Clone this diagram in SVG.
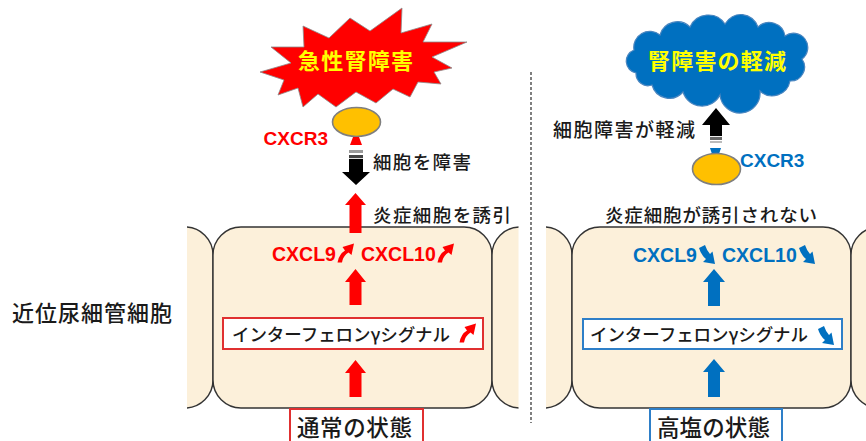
<svg xmlns="http://www.w3.org/2000/svg" width="866" height="441" viewBox="0 0 866 441">
  <style>
    .jp { font-family: "Noto Sans CJK JP", "Noto Sans", sans-serif; font-weight: 500; fill: #1a1a1a; }
    .lat { font-family: "Liberation Sans", Arial, sans-serif; font-weight: bold; }
    .red { fill: #ff0000; }
    .blue { fill: #0070c0; }
    .cell { fill: #fcf0da; stroke: #333333; stroke-width: 1.4; }
    .rcpt { fill: #ffc000; stroke: #7f7f7f; stroke-width: 1.6; }
    .title { font-family: "Noto Sans CJK JP", sans-serif; font-weight: bold; fill: #ffff00; font-size: 22px; }
    .box-red { fill: #ffffff; stroke: #e03030; stroke-width: 2; }
    .box-blue { fill: #ffffff; stroke: #2e7fc8; stroke-width: 2; }
  </style>
  <defs>
    <clipPath id="clipL1"><rect x="187" y="200" width="40" height="240"/></clipPath>
    <clipPath id="clipL2"><rect x="480" y="200" width="38.5" height="240"/></clipPath>
    <clipPath id="clipR1"><rect x="546" y="200" width="40" height="240"/></clipPath>
    <!-- small curved trend arrows -->
    <path id="trendUp" d="M0.5,19.5 Q2,11 8,7.5 L5.5,4 L17,0.5 L14.5,12 L11.5,9.5 Q6,13 5,19.5 Z"/>
    <path id="trendDown" d="M0,3 L6,0 Q8,6 11,9 L13.5,6.5 L16,19 L4,17 L7,14 Q2,10 0,3 Z"/>
    <linearGradient id="fadeTop" x1="0" y1="0" x2="0" y2="1">
      <stop offset="0" stop-color="#9a9a9a"/>
      <stop offset="0.08" stop-color="#9a9a9a"/>
      <stop offset="0.08" stop-color="#ffffff"/>
      <stop offset="0.13" stop-color="#ffffff"/>
      <stop offset="0.13" stop-color="#444444"/>
      <stop offset="0.22" stop-color="#444444"/>
      <stop offset="0.22" stop-color="#dddddd"/>
      <stop offset="0.26" stop-color="#dddddd"/>
      <stop offset="0.26" stop-color="#000000"/>
      <stop offset="1" stop-color="#000000"/>
    </linearGradient>
    <linearGradient id="fadeBottom" x1="0" y1="1" x2="0" y2="0">
      <stop offset="0" stop-color="#bbbbbb"/>
      <stop offset="0.06" stop-color="#bbbbbb"/>
      <stop offset="0.06" stop-color="#ffffff"/>
      <stop offset="0.1" stop-color="#ffffff"/>
      <stop offset="0.1" stop-color="#666666"/>
      <stop offset="0.16" stop-color="#666666"/>
      <stop offset="0.16" stop-color="#eeeeee"/>
      <stop offset="0.19" stop-color="#eeeeee"/>
      <stop offset="0.19" stop-color="#000000"/>
      <stop offset="1" stop-color="#000000"/>
    </linearGradient>
  </defs>

  <!-- dotted divider between the two conditions -->
  <line x1="531" y1="72" x2="531" y2="423" stroke="#555555" stroke-width="1.5" stroke-dasharray="3 2"/>

  <text class="jp" x="12" y="321" font-size="22" textLength="160" lengthAdjust="spacing">近位尿細管細胞</text>

  <!-- ===== normal condition ===== -->
  <g id="cells-normal">
    <rect class="cell" x="150" y="227" width="63" height="181" rx="28" clip-path="url(#clipL1)"/>
    <rect class="cell" x="213" y="227" width="279" height="181" rx="28"/>
    <rect class="cell" x="492" y="227" width="70" height="181" rx="28" clip-path="url(#clipL2)"/>
  </g>

  <g id="aki-burst">
    <polygon fill="#ff0000" stroke="#8c8c8c" stroke-width="0.8"
      points="260,72 291,63 271,47 304,47 303,26 329,38 350,18 370,31 402,8 401,33 432,24 423,42 467,42 432,57 452,68 434,72 441,84 418,82 410,97 393,89 376,103 356,92 336,107 318,94 303,107 298,88 278,95 284,80"/>
    <text class="title" x="298" y="69" textLength="115" lengthAdjust="spacing">急性腎障害</text>
  </g>

  <g id="cxcr3-normal">
    <ellipse class="rcpt" cx="356.5" cy="122" rx="24" ry="14.5"/>
    <polygon class="red" points="353,137 359,137 362,145 350,145"/>
    <text class="lat red" x="328" y="145" font-size="19" text-anchor="end">CXCR3</text>
  </g>

  <g id="damage-label">
    <text class="jp" x="373" y="169" font-size="18.5" textLength="98" lengthAdjust="spacing">細胞を障害</text>
  </g>
  <g id="recruit-label">
    <text class="jp" x="373" y="222" font-size="18.5" textLength="138" lengthAdjust="spacing">炎症細胞を誘引</text>
  </g>

  <g id="cxcl-normal">
    <text class="lat red" x="272" y="261" font-size="19.5">CXCL9</text>
    <use href="#trendUp" class="red" x="337" y="243"/>
    <text class="lat red" x="361" y="261" font-size="19.5">CXCL10</text>
    <use href="#trendUp" class="red" x="437" y="243"/>
  </g>

  <g id="ifng-normal">
    <rect class="box-red" x="223" y="318" width="260" height="31"/>
    <text class="jp" x="232" y="341" font-size="17.5" textLength="218" lengthAdjust="spacing">インターフェロンγシグナル</text>
    <use href="#trendUp" class="red" x="459" y="323"/>
  </g>

  <g id="state-normal">
    <rect class="box-red" x="290" y="409" width="133" height="40"/>
    <text class="jp" x="297" y="436" font-size="22.5" textLength="115" lengthAdjust="spacing">通常の状態</text>
  </g>

  <!-- ===== high-salt condition ===== -->
  <g id="cells-salt">
    <rect class="cell" x="510" y="227" width="62" height="181" rx="28" clip-path="url(#clipR1)"/>
    <rect class="cell" x="572" y="227" width="279" height="181" rx="28"/>
    <rect class="cell" x="851" y="227" width="60" height="181" rx="28"/>
  </g>

  <g id="relief-cloud">
    <path fill="#0070c0" stroke="#4a86c0" stroke-width="1.2"
      d="M636,73 A12,12 0 0 1 634,50 A16,16 0 0 1 660,35 A18,18 0 0 1 690,27 A20,20 0 0 1 725,24 A18,18 0 0 1 758,27 A16,16 0 0 1 785,36 A14,14 0 0 1 802,59 A14,14 0 0 1 790,81 A18,18 0 0 1 760,91 A20,20 0 0 1 720,95 A20,20 0 0 1 683,92 A18,18 0 0 1 652,85 A12,12 0 0 1 636,73 Z"/>
    <text class="title" x="648" y="69" textLength="138" lengthAdjust="spacing">腎障害の軽減</text>
  </g>

  <g id="relief-label">
    <text class="jp" x="553" y="137" font-size="19" textLength="142" lengthAdjust="spacing">細胞障害が軽減</text>
  </g>

  <g id="cxcr3-salt">
    <polygon class="blue" points="710,148 721,148 719,154 712,154"/>
    <ellipse class="rcpt" cx="716.5" cy="169" rx="24" ry="15.5"/>
    <text class="lat blue" x="740" y="167" font-size="19">CXCR3</text>
  </g>

  <g id="norecruit-label">
    <text class="jp" x="605" y="222" font-size="18.5" textLength="212" lengthAdjust="spacing">炎症細胞が誘引されない</text>
  </g>

  <g id="cxcl-salt">
    <text class="lat blue" x="633" y="262" font-size="19.5">CXCL9</text>
    <use href="#trendDown" class="blue" x="699" y="245"/>
    <text class="lat blue" x="722" y="262" font-size="19.5">CXCL10</text>
    <use href="#trendDown" class="blue" x="799" y="245"/>
  </g>

  <g id="ifng-salt">
    <rect class="box-blue" x="583" y="319" width="259" height="30"/>
    <text class="jp" x="590" y="341" font-size="17.5" textLength="218" lengthAdjust="spacing">インターフェロンγシグナル</text>
    <use href="#trendDown" class="blue" x="818" y="326"/>
  </g>

  <g id="state-salt">
    <rect class="box-blue" x="650" y="409" width="132" height="40"/>
    <text class="jp" x="657" y="436" font-size="22.5" textLength="113" lengthAdjust="spacing">高塩の状態</text>
  </g>

  <!-- block arrows -->
  <g id="connectors">
    <!-- normal: damage arrow (down) -->
    <polygon fill="url(#fadeTop)" points="349,150 363,150 363,172 370,172 356,185 342,172 349,172"/>
    <!-- normal: recruitment arrow (up) -->
    <polygon class="red" points="355.5,193 366,205 361.5,205 361.5,233 349.5,233 349.5,205 345,205"/>
    <!-- normal: signalling to CXCL -->
    <polygon class="red" points="355.5,269 366,282 361.5,282 361.5,305 349.5,305 349.5,282 345,282"/>
    <!-- normal: state to signalling -->
    <polygon class="red" points="355.5,360 366,373 361.5,373 361.5,397 349.5,397 349.5,373 345,373"/>
    <!-- high salt: relief arrow (up) -->
    <polygon fill="url(#fadeBottom)" points="716,108 730,125 722,125 722,143 710,143 710,125 702,125"/>
    <!-- high salt: signalling to CXCL -->
    <polygon class="blue" points="714,269 725,282 720,282 720,306 708,306 708,282 703,282"/>
    <!-- high salt: state to signalling -->
    <polygon class="blue" points="714,359 725,372 720,372 720,397 708,397 708,372 703,372"/>
  </g>
</svg>
